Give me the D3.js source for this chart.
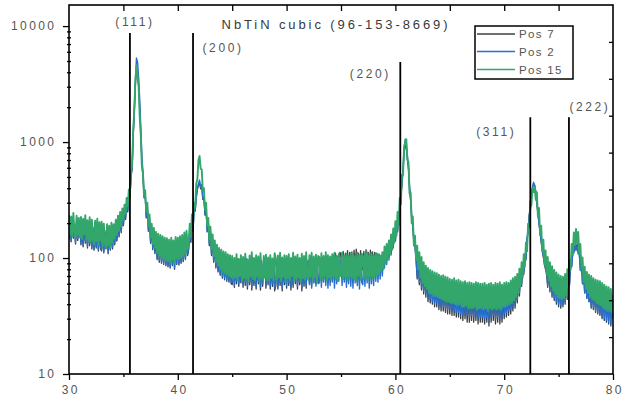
<!DOCTYPE html>
<html>
<head>
<meta charset="utf-8">
<script src="https://cdn.jsdelivr.net/npm/d3@7"></script>
<style>
  html, body { margin: 0; padding: 0; background: #fff; }
  svg { display: block; font-family: Arial, "Liberation Sans", sans-serif; }
</style>
</head>
<body>
<svg id="chart" width="623" height="404"></svg>
<script>
// XRD scans (2θ from 30° to 80°, 0.1° step), counts per step
const startAngle = 30;
const stepAngle = 0.1;

const seriesNames = ["Pos 7", "Pos 2", "Pos 15"];
const seriesColors = ["#3c4046", "#2a6fcb", "#33a66c"];
const seriesWidths = [1.3, 1.4, 1.9];

const pos7 = [
  144,200,138,208,148,192,132,204,142,186,
  196,130,192,125,204,134,186,122,196,128,
  186,120,180,117,182,122,190,115,176,120,
  115,174,111,168,120,172,109,164,117,170,
  120,172,130,188,140,205,152,220,165,234,
  190,255,215,292,250,345,330,500,580,1120,
  1800,3100,4200,3900,3000,1900,1150,660,500,330,
  350,222,272,170,214,134,180,118,164,109,
  152,97,146,92,142,90,138,88,134,86,
  132,84,129,82,134,86,127,80,136,88,
  134,87,138,90,142,93,148,97,156,105,
  118,176,136,212,170,268,254,330,390,425,
  450,395,415,320,330,234,262,168,198,128,
  165,105,142,92,126,82,115,76,108,71,
  104,67,100,65,98,63,95,62,93,60,
  59,90,56,87,60,93,57,84,61,91,
  56,89,58,94,54,86,59,92,53,88,
  58,87,54,93,60,85,53,90,57,92,
  90,55,87,59,93,54,86,57,91,52,
  57,88,54,93,58,85,52,91,59,87,
  55,92,58,85,53,94,56,88,60,90,
  54,90,59,86,52,93,57,89,55,88,
  94,60,90,57,96,62,92,60,98,63,
  64,97,62,101,66,96,63,103,61,98,
  66,102,70,106,68,110,72,104,75,112,
  108,76,114,80,110,74,116,79,112,77,
  113,75,117,81,119,78,110,74,116,80,
  79,114,77,118,81,112,75,117,80,113,
  78,112,80,110,82,108,84,106,88,110,
  92,118,96,126,102,134,110,148,124,166,
  140,192,168,236,250,340,420,560,800,940,
  900,720,590,390,310,215,185,134,126,96,
  66,100,59,90,53,82,49,76,46,72,
  42,68,41,66,40,64,38,62,38,61,
  36,59,35,58,35,57,34,56,33,55,
  33,54,32,53,32,54,31,52,31,53,
  30,51,29,50,30,51,28,49,28,50,
  29,49,28,48,29,50,27,49,28,48,
  28,48,27,49,28,47,26,48,28,49,
  29,47,27,49,28,48,27,50,28,47,
  30,49,31,50,32,49,33,52,35,55,
  37,58,41,63,47,71,57,82,72,100,
  96,145,165,232,255,350,400,440,425,370,
  290,244,196,166,136,117,101,89,80,73,
  56,85,51,78,46,72,43,67,40,63,
  38,60,37,59,38,58,40,61,44,67,
  58,84,84,112,114,130,122,132,112,112,
  80,94,60,73,50,65,45,59,42,55,
  37,58,36,56,34,55,33,54,32,53,
  30,51,29,50,28,48,27,47,26,46,
  30
];

const pos2 = [
  148,205,140,214,152,196,136,208,146,190,
  200,134,196,128,208,138,190,126,200,132,
  190,124,184,120,186,126,194,118,180,124,
  118,178,114,172,124,176,112,168,120,174,
  124,176,134,192,144,210,156,226,170,240,
  196,262,222,300,258,356,340,520,600,1180,
  1850,3300,5300,4900,3600,2350,1350,740,560,350,
  360,228,280,174,220,138,184,122,168,112,
  156,100,150,95,146,92,142,90,138,88,
  136,86,133,84,138,88,131,82,140,90,
  138,89,142,92,146,95,152,99,160,108,
  122,182,140,218,176,276,262,340,400,440,
  470,405,430,330,340,240,270,172,204,132,
  170,108,146,94,130,84,118,78,111,73,
  108,69,104,67,102,65,98,64,96,62,
  62,95,58,92,63,98,60,89,64,96,
  59,94,61,99,57,91,62,97,56,93,
  61,92,57,98,63,90,56,95,60,97,
  95,58,92,62,98,57,91,60,96,55,
  60,93,57,98,61,90,55,96,62,92,
  58,97,61,90,56,99,59,93,63,95,
  57,95,62,91,55,98,60,94,58,90,
  96,59,92,55,97,61,90,57,99,60,
  61,94,56,97,62,91,58,99,55,93,
  58,95,62,92,55,97,60,90,63,96,
  94,58,97,62,90,56,98,60,93,57,
  92,55,96,61,99,58,91,54,97,62,
  59,95,57,98,61,93,55,97,60,94,
  58,97,63,95,62,98,66,101,70,104,
  82,116,88,124,96,132,106,148,122,168,
  140,196,172,246,260,360,440,600,880,1060,
  980,770,620,420,330,230,196,140,132,100,
  70,105,62,95,56,86,52,80,49,76,
  45,72,44,70,42,68,41,66,41,65,
  39,63,38,62,38,61,37,60,36,59,
  36,58,35,57,35,58,34,56,34,57,
  33,55,32,54,33,55,32,53,31,54,
  32,53,31,52,32,54,30,53,31,52,
  31,52,30,53,31,51,29,52,31,53,
  32,51,30,53,31,52,30,54,31,51,
  33,53,34,54,35,53,36,56,38,59,
  40,62,44,67,50,75,60,86,76,104,
  100,150,170,240,260,360,400,450,420,380,
  300,250,200,170,140,120,104,92,82,76,
  58,88,53,81,48,75,45,70,42,66,
  40,63,39,62,40,61,42,64,46,70,
  60,86,84,110,110,126,116,128,108,110,
  78,92,60,72,50,64,45,59,42,56,
  38,60,37,58,35,57,34,56,33,55,
  31,53,30,52,29,50,28,49,27,48,
  30
];

const pos15 = [
  236,160,228,154,245,168,150,232,158,222,
  150,226,146,218,160,234,144,212,140,225,
  138,214,146,132,210,140,218,130,204,142,
  206,126,198,134,122,196,128,190,124,202,
  136,196,148,214,158,232,172,250,186,268,
  214,288,240,330,280,390,360,560,620,1250,
  1900,3400,4500,3850,3050,1650,1150,610,540,340,
  385,250,300,190,238,150,198,132,182,122,
  168,110,162,104,158,100,154,98,150,96,
  148,94,144,92,150,96,142,90,152,98,
  150,98,154,100,158,104,166,108,172,118,
  132,198,152,238,190,300,280,440,480,700,
  760,590,580,380,400,262,300,190,222,144,
  186,120,160,104,142,92,130,86,122,80,
  118,76,114,74,112,72,108,70,106,68,
  104,66,100,68,108,65,98,70,106,64,
  102,67,109,66,97,63,105,69,112,66,
  100,64,106,69,103,62,110,67,65,104,
  68,107,64,101,63,106,67,99,64,110,
  99,65,105,68,111,63,101,69,106,62,
  104,67,108,64,100,70,111,63,103,66,
  107,68,100,63,109,67,104,65,112,69,
  65,106,69,111,64,103,68,107,62,104,
  102,67,110,65,104,70,112,64,106,68,
  103,65,108,69,111,66,104,63,109,70,
  70,111,66,105,68,109,64,104,69,110,
  67,107,66,104,63,111,70,106,65,109,
  104,66,109,68,112,65,106,69,111,67,
  106,69,110,70,108,73,104,77,112,80,
  126,90,132,98,142,108,160,118,180,136,
  208,156,250,192,330,290,520,520,900,1000,
  1060,700,680,360,370,200,228,128,156,96,
  128,80,112,68,102,61,92,57,86,54,
  82,50,79,49,77,47,75,47,74,46,
  72,45,70,44,71,43,69,42,68,42,
  66,41,65,41,67,40,64,39,65,40,
  63,38,62,38,63,39,61,37,62,37,
  61,37,60,38,62,36,61,37,60,37,
  60,36,61,37,59,35,60,37,61,36,
  59,37,61,36,60,37,62,36,59,38,
  61,38,62,39,61,40,64,41,67,43,
  69,46,73,50,81,57,92,68,108,84,
  136,114,198,184,310,285,400,370,410,318,
  370,228,270,158,190,114,144,88,116,72,
  102,64,92,57,85,52,79,49,75,46,
  72,45,70,44,69,45,73,48,80,57,
  96,79,132,107,166,128,178,134,168,108,
  132,80,101,62,84,54,76,50,72,46,
  70,44,67,43,65,41,64,40,63,39,
  61,37,59,36,57,35,56,35,54,34,
  41
];

// Reference pattern NbTiN cubic (96-153-8669)
const refLabels = ["(111)", "(200)", "(220)", "(311)", "(222)"];
const refAngles = [35.6, 41.4, 60.45, 72.4, 75.95];
const refHeights = [8700, 8700, 4900, 1640, 1640];

const xTickValues = [30, 40, 50, 60, 70, 80];
const yTickValues = [10, 100, 1000, 10000];
const chartTitle = "NbTiN cubic (96-153-8669)";

const W = 623, H = 404;
const plot = { left: 69, right: 613, top: 5, bottom: 374 };

const svg = d3.select("#chart");
svg.append("rect").attr("width", W).attr("height", H).attr("fill", "#fff");

const x = d3.scaleLinear().domain([30, 80]).range([plot.left, plot.right]);
const y = d3.scaleLog().domain([10, 15200]).range([plot.bottom, plot.top]);
const yRight = d3.scaleLinear().domain([0, 10]).range([plot.bottom, plot.top]);

svg.append("clipPath").attr("id", "plotclip")
  .append("rect")
  .attr("x", plot.left).attr("y", plot.top)
  .attr("width", plot.right - plot.left).attr("height", plot.bottom - plot.top);

// scans
const allSeries = [pos7, pos2, pos15];
const line = d3.line()
  .x((d, i) => x(startAngle + i * stepAngle))
  .y(d => y(d));

const dataG = svg.append("g").attr("clip-path", "url(#plotclip)");
allSeries.forEach((vals, k) => {
  dataG.append("path")
    .datum(vals)
    .attr("fill", "none")
    .attr("stroke", seriesColors[k])
    .attr("stroke-width", seriesWidths[k])
    .attr("stroke-linejoin", "round")
    .attr("d", line);
});

// reference sticks
const sticks = refAngles.map((a, i) => ({ a, h: refHeights[i], label: refLabels[i] }));
svg.append("g").selectAll("line").data(sticks).join("line")
  .attr("x1", d => x(d.a)).attr("x2", d => x(d.a))
  .attr("y1", y(10)).attr("y2", d => y(d.h))
  .attr("stroke", "#000").attr("stroke-width", 1.8);

// hkl labels, placed beside each stick
const labelOffsets = [
  { dx: 5, dy: -11 },
  { dx: 30, dy: 15 },
  { dx: -30, dy: 12 },
  { dx: -34, dy: 15 },
  { dx: 21, dy: -10 }
];
svg.append("g").selectAll("text").data(sticks).join("text")
  .attr("x", (d, i) => x(d.a) + labelOffsets[i].dx)
  .attr("y", (d, i) => y(d.h) + labelOffsets[i].dy)
  .attr("text-anchor", "middle")
  .attr("dominant-baseline", "central")
  .attr("font-size", 12)
  .attr("letter-spacing", 2.6)
  .attr("fill", "#555")
  .text(d => d.label);

// title
svg.append("text")
  .attr("x", 336).attr("y", 24)
  .attr("text-anchor", "middle")
  .attr("dominant-baseline", "central")
  .attr("font-size", 13)
  .attr("letter-spacing", 2.9)
  .attr("fill", "#3a3a3a")
  .text(chartTitle);

// axes
const axisColor = "#000";
// bottom
const gx = svg.append("g").attr("transform", `translate(0,${plot.bottom})`);
gx.call(d3.axisBottom(x).tickValues(xTickValues).tickSize(6).tickFormat(d3.format("d")));
gx.append("g").call(d3.axisBottom(x).tickValues([35, 45, 55, 65, 75]).tickSize(3).tickFormat(""));
// top (inward)
const gxt = svg.append("g").attr("transform", `translate(0,${plot.top})`);
gxt.call(d3.axisBottom(x).tickValues([35, 40, 45, 50, 55, 60, 65, 70, 75]).tickSize(6).tickFormat(""));
// left
const gy = svg.append("g").attr("transform", `translate(${plot.left},0)`);
gy.call(d3.axisLeft(y).tickValues(yTickValues).tickSize(6).tickFormat(d3.format("d")));
const minorY = [];
[10, 100, 1000, 10000].forEach(dec => {
  for (let m = 2; m <= 9; m++) if (dec * m <= 15200) minorY.push(dec * m);
});
gy.append("g").call(d3.axisLeft(y).tickValues(minorY).tickSize(3).tickFormat(""))
  .selectAll(".tick line").attr("x1", 2).attr("x2", -2);
// right (inward)
const gyr = svg.append("g").attr("transform", `translate(${plot.right},0)`);
gyr.call(d3.axisLeft(yRight).tickValues(d3.range(1, 10)).tickSize(4).tickFormat(""));

[gx, gxt, gy, gyr].forEach(g => {
  g.selectAll(".domain").remove();
  g.selectAll(".tick line").attr("stroke", axisColor).attr("stroke-width", 1.3);
  g.selectAll("text")
    .attr("font-size", 12)
    .attr("letter-spacing", 2.4)
    .attr("fill", "#555")
    .attr("font-family", "Arial, 'Liberation Sans', sans-serif");
});
gx.selectAll("text").attr("dy", "0.95em").attr("dx", "0.1em");
gy.selectAll("text").attr("dx", "-0.3em");

// frame
svg.append("rect")
  .attr("x", plot.left).attr("y", plot.top)
  .attr("width", plot.right - plot.left).attr("height", plot.bottom - plot.top)
  .attr("fill", "none").attr("stroke", "#000").attr("stroke-width", 1.6);

// legend
const lg = svg.append("g");
lg.append("rect")
  .attr("x", 475).attr("y", 26).attr("width", 98).attr("height", 53)
  .attr("fill", "#fff").attr("stroke", "#000").attr("stroke-width", 1.5);
const legendRows = [34, 51.5, 69.5];
seriesNames.forEach((name, k) => {
  lg.append("line")
    .attr("x1", 477).attr("x2", 515)
    .attr("y1", legendRows[k]).attr("y2", legendRows[k])
    .attr("stroke", seriesColors[k]).attr("stroke-width", 1.4);
  lg.append("text")
    .attr("x", 519).attr("y", legendRows[k])
    .attr("dominant-baseline", "central")
    .attr("font-size", 11.5)
    .attr("letter-spacing", 1.3)
    .attr("fill", "#555")
    .text(name);
});
</script>
</body>
</html>
